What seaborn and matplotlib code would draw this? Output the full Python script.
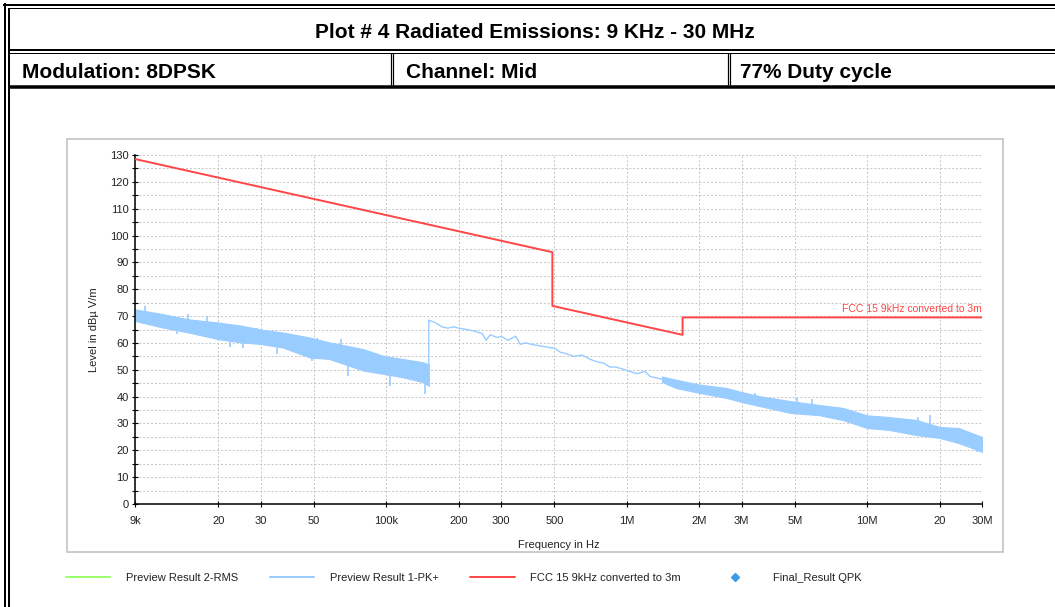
import numpy as np
import pandas as pd
import matplotlib
matplotlib.use("Agg")
import matplotlib.pyplot as plt
import seaborn as sns
from matplotlib.lines import Line2D
from matplotlib.patches import Rectangle
from matplotlib.ticker import FixedLocator, NullLocator, MultipleLocator

# ---- data ----
# FCC 15.209 limit, converted to 3 m (Hz, dBuV/m)
limit_freq = [9e3, 490e3, 490e3, 1.705e6, 1.705e6, 30e6]
limit_level = [128.5, 93.8, 73.8, 63.0, 69.5, 69.5]

# Preview Result 1-PK+, dense part 9 kHz - 150 kHz (core of the trace)
band1_freq_khz = [9, 11.8, 15, 20, 25, 30, 37, 48, 58, 80, 97, 117, 142, 150]
band1_upper = [72.5, 70.7, 68.8, 67.6, 66.4, 65, 63.9, 62, 60.2, 57.7, 55.2,
               54, 52.8, 52]
band1_lower = [68.2, 65.7, 63.9, 61.4, 60.2, 59.6, 58.3, 54.6, 54, 49.7, 48.5,
               47.2, 45.4, 44]

# Preview Result 1-PK+, single trace 150 kHz - 1.4 MHz
mid_freq_khz = [150, 150, 160, 170, 180, 190, 200, 215, 230, 250, 260, 270,
                290, 300, 320, 345, 360, 380, 400, 430, 460, 500, 530, 560,
                600, 650, 700, 750, 800, 850, 900, 1000, 1100, 1190, 1250, 1400]
mid_level = [44, 68.5, 67.5, 66, 65.5, 66, 65.5, 65, 64.5, 63.5, 61, 63, 62,
             62.5, 61, 62.5, 59.5, 60, 59.5, 59, 58.5, 58, 56.5, 56, 55,
             55.5, 54, 53, 52.5, 51, 51, 49.8, 48.5, 49.4, 47.5, 46.5]

# Preview Result 1-PK+, dense part 1.4 MHz - 30 MHz (core of the trace)
band2_freq_mhz = [1.4, 1.6, 2, 2.6, 3, 3.6, 4.8, 6.3, 7.9, 10, 12.3, 16, 20,
                  24, 28, 30]
band2_upper = [47.5, 46.3, 44.5, 43.2, 41.7, 40.1, 38.3, 36.9, 35.8, 33, 32.4,
               31.3, 28.7, 28.3, 26, 25]
band2_lower = [45.5, 43.2, 41.4, 39.5, 38, 36.4, 33.9, 33.1, 31.3, 28.3, 27.6,
               25.7, 24.6, 22.7, 20.5, 19.4]

# single spikes standing out of the dense parts (Hz, from, to)
spike_freq = [9.9e3, 13.4e3, 15e3, 17.9e3, 22.4e3, 25.2e3, 28.9e3, 35e3,
              49e3, 51.6e3, 65e3, 69e3, 103e3, 144e3,
              3.4e6, 5.1e6, 5.9e6, 16.2e6, 18.3e6, 28.5e6]
spike_from = [70, 63.3, 66, 66, 58.3, 58, 62, 56,
              53.4, 58, 56, 47.8, 44.1, 41,
              38, 35, 34, 28, 27, 19.4]
spike_to = [73.8, 67, 70.7, 70, 63, 62, 65.7, 60,
            57, 62, 61.4, 53, 50, 47,
            41.3, 39.5, 39.2, 32.4, 33, 23]

x_ticks = [9e3, 20e3, 30e3, 50e3, 100e3, 200e3, 300e3, 500e3, 1e6, 2e6, 3e6,
           5e6, 10e6, 20e6, 30e6]
x_tick_labels = ["9k", "20", "30", "50", "100k", "200", "300", "500", "1M",
                 "2M", "3M", "5M", "10M", "20", "30M"]

legend_labels = ["Preview Result 2-RMS", "Preview Result 1-PK+",
                 "FCC 15 9kHz converted to 3m", "Final_Result QPK"]

# ---- style ----
sns.set_theme(style="white")
plt.rcParams["font.family"] = ["Liberation Sans", "DejaVu Sans"]

BLUE = "#99ccff"
RED = "#ff4545"
GREEN = "#99ff66"
GRID = "#c4c4c4"

W, H = 1055, 607
fig = plt.figure(figsize=(W / 100, H / 100), dpi=100)
fig.patch.set_facecolor("white")


def hline(y, x0, x1, width):
    fig.add_artist(Line2D([x0 / W, x1 / W], [1 - y / H, 1 - y / H],
                          transform=fig.transFigure, color="black",
                          lw=width * 0.72, solid_capstyle="butt"))


def vline(x, y0, y1, width):
    fig.add_artist(Line2D([x / W, x / W], [1 - y0 / H, 1 - y1 / H],
                          transform=fig.transFigure, color="black",
                          lw=width * 0.72, solid_capstyle="butt"))


# report frame
hline(5, 3, W, 2)
hline(8, 9, W, 1)
hline(50, 9, W, 2)
hline(53, 9, W, 1)
hline(86.5, 9, W, 3.5)
vline(4.5, 3, H, 2)
vline(9, 8, H, 2)
for cx in (390.5, 393, 727.5, 730):
    vline(cx, 53, 85, 1.2)

head_font = dict(family=["Liberation Sans", "DejaVu Sans"],
                 weight="bold", size=15, color="black")
fig.text(535 / W, 1 - 38.5 / H, "Plot # 4 Radiated Emissions: 9 KHz - 30 MHz",
         ha="center", va="baseline", **head_font)
fig.text(22 / W, 1 - 78 / H, "Modulation: 8DPSK", ha="left", va="baseline", **head_font)
fig.text(406 / W, 1 - 78 / H, "Channel: Mid", ha="left", va="baseline", **head_font)
fig.text(740 / W, 1 - 78 / H, "77% Duty cycle", ha="left", va="baseline", **head_font)

# gray panel around the chart
fig.add_artist(Rectangle((67 / W, 1 - 552 / H), (1003 - 67) / W, (552 - 139) / H,
                         transform=fig.transFigure, fill=False,
                         edgecolor="#c8c8c8", lw=1.3))

ax = fig.add_axes([135 / W, 1 - 504 / H, (982 - 135) / W, (504 - 155) / H])
ax.set_facecolor("white")

# traces
ax.fill_between(np.array(band1_freq_khz) * 1e3, band1_lower, band1_upper,
                color=BLUE, lw=0.8, zorder=2)
ax.fill_between(np.array(band2_freq_mhz) * 1e6, band2_lower, band2_upper,
                color=BLUE, lw=0.8, zorder=2)
ax.vlines(spike_freq, spike_from, spike_to, color=BLUE, lw=1.2, zorder=2)
mid = pd.DataFrame({"freq": np.array(mid_freq_khz) * 1e3, "level": mid_level})
sns.lineplot(data=mid, x="freq", y="level", estimator=None, sort=False,
             color=BLUE, lw=1.0, ax=ax, zorder=2)
lim = pd.DataFrame({"freq": limit_freq, "level": limit_level})
sns.lineplot(data=lim, x="freq", y="level", estimator=None, sort=False,
             color=RED, lw=1.4, ax=ax, zorder=3)
ax.text(30e6, 70.8, "FCC 15 9kHz converted to 3m", color=RED, fontsize=7.5,
        ha="right", va="bottom")

ax.set_xscale("log")
ax.set_xlim(9e3, 30e6)
ax.set_ylim(0, 130)
ax.xaxis.set_major_locator(FixedLocator(x_ticks))
ax.xaxis.set_minor_locator(NullLocator())
ax.set_xticklabels(x_tick_labels)
ax.yaxis.set_major_locator(MultipleLocator(10))
ax.yaxis.set_minor_locator(MultipleLocator(5))

ax.grid(True, axis="x", which="major", color=GRID, ls=(0, (2, 2)), lw=0.7)
ax.grid(True, axis="y", which="both", color=GRID, ls=(0, (2, 2)), lw=0.7)
ax.set_axisbelow(True)

for side in ("top", "right"):
    ax.spines[side].set_visible(False)
for side in ("left", "bottom"):
    ax.spines[side].set_color("black")
    ax.spines[side].set_linewidth(1.1)

ax.tick_params(axis="both", which="both", direction="inout", color="black",
               width=0.8, labelsize=8, labelcolor="#222222")
ax.tick_params(axis="both", which="major", length=5, left=True, bottom=True)
ax.tick_params(axis="y", which="minor", length=4, left=True)
ax.tick_params(axis="x", pad=6)
ax.tick_params(axis="y", pad=2)

ax.set_xlabel("Frequency in Hz", fontsize=8, color="#222222", labelpad=10)
ax.set_ylabel("Level in dBµ V/m", fontsize=8, color="#222222", labelpad=8)

handles = [
    Line2D([], [], color=GREEN, lw=1.4),
    Line2D([], [], color=BLUE, lw=1.4),
    Line2D([], [], color=RED, lw=1.4),
    Line2D([], [], ls="none", marker="D", markersize=4, color="#3a9be8"),
]
fig.legend(handles, legend_labels, loc="center left",
           bbox_to_anchor=(66 / W, 1 - 578 / H), ncol=4, frameon=False,
           fontsize=8, handlelength=4.0, handletextpad=1.4, columnspacing=2.85,
           borderpad=0, borderaxespad=0, labelcolor="#222222")

fig.savefig("out.png", dpi=100, facecolor="white")
